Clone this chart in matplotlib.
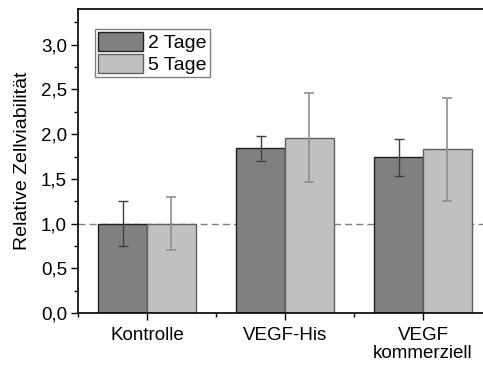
import numpy as np
import matplotlib
matplotlib.use("Agg")
from matplotlib import pyplot as plt
from matplotlib.ticker import MultipleLocator, FuncFormatter

plt.rcParams['font.family'] = ['Liberation Sans', 'DejaVu Sans']

groups = ['Kontrolle', 'VEGF-His', 'VEGF\nkommerziell']
series = ['2 Tage', '5 Tage']
tage2 = [1.00, 1.84, 1.74]
tage2_err = [0.25, 0.14, 0.21]
tage5 = [1.00, 1.96, 1.83]
tage5_err = [0.30, 0.50, 0.58]

fig = plt.figure(figsize=(4.83, 3.65), dpi=100)
ax = fig.add_axes([78 / 483, 1 - 313 / 365, 414 / 483, 304 / 365])

x = np.arange(len(groups))
w = 0.355
ax.axhline(1.0, color='#808080', lw=1, ls=(0, (5, 3)), zorder=0)
ax.bar(x - w / 2, tage2, w, color='#808080', edgecolor='#202020', lw=1,
       label=series[0], zorder=2)
ax.bar(x + w / 2, tage5, w, color='#c0c0c0', edgecolor='#606060', lw=1,
       label=series[1], zorder=2)
ax.errorbar(x - w / 2, tage2, yerr=tage2_err, fmt='none', ecolor='#404040',
            elinewidth=1, capsize=3.5, capthick=1, zorder=3)
ax.errorbar(x + w / 2, tage5, yerr=tage5_err, fmt='none', ecolor='#909090',
            elinewidth=1.2, capsize=3.5, capthick=1.2, zorder=3)

ax.set_xlim(-0.5, 2.5)
ax.set_ylim(0, 3.4)
ax.set_xticks(x)
ax.set_xticklabels(groups, fontsize=13.5, linespacing=1.1)
ax.xaxis.set_minor_locator(MultipleLocator(1, offset=0.5))
ax.yaxis.set_major_locator(MultipleLocator(0.5))
ax.yaxis.set_minor_locator(MultipleLocator(0.25))
ax.yaxis.set_major_formatter(FuncFormatter(lambda v, p: f'{v:.1f}'.replace('.', ',')))
ax.tick_params(axis='y', labelsize=13.5, direction='out', length=5, width=1, pad=3)
ax.tick_params(axis='y', which='minor', direction='out', length=3, width=1)
ax.tick_params(axis='x', direction='out', length=5, width=1, pad=5)
ax.tick_params(axis='x', which='minor', direction='out', length=3, width=1)
ax.set_ylabel('Relative Zellviabilität', fontsize=14, labelpad=7)
for s in ax.spines.values():
    s.set_linewidth(1.2)

leg = ax.legend(loc='upper left', bbox_to_anchor=(0.041, 0.934), fontsize=14,
                fancybox=False, edgecolor='#808080', framealpha=1,
                handlelength=2.3, handleheight=1.1, handletextpad=0.3,
                borderpad=0.15, labelspacing=0.1, borderaxespad=0)
leg.get_frame().set_linewidth(1)

fig.savefig('out.png', dpi=100)
